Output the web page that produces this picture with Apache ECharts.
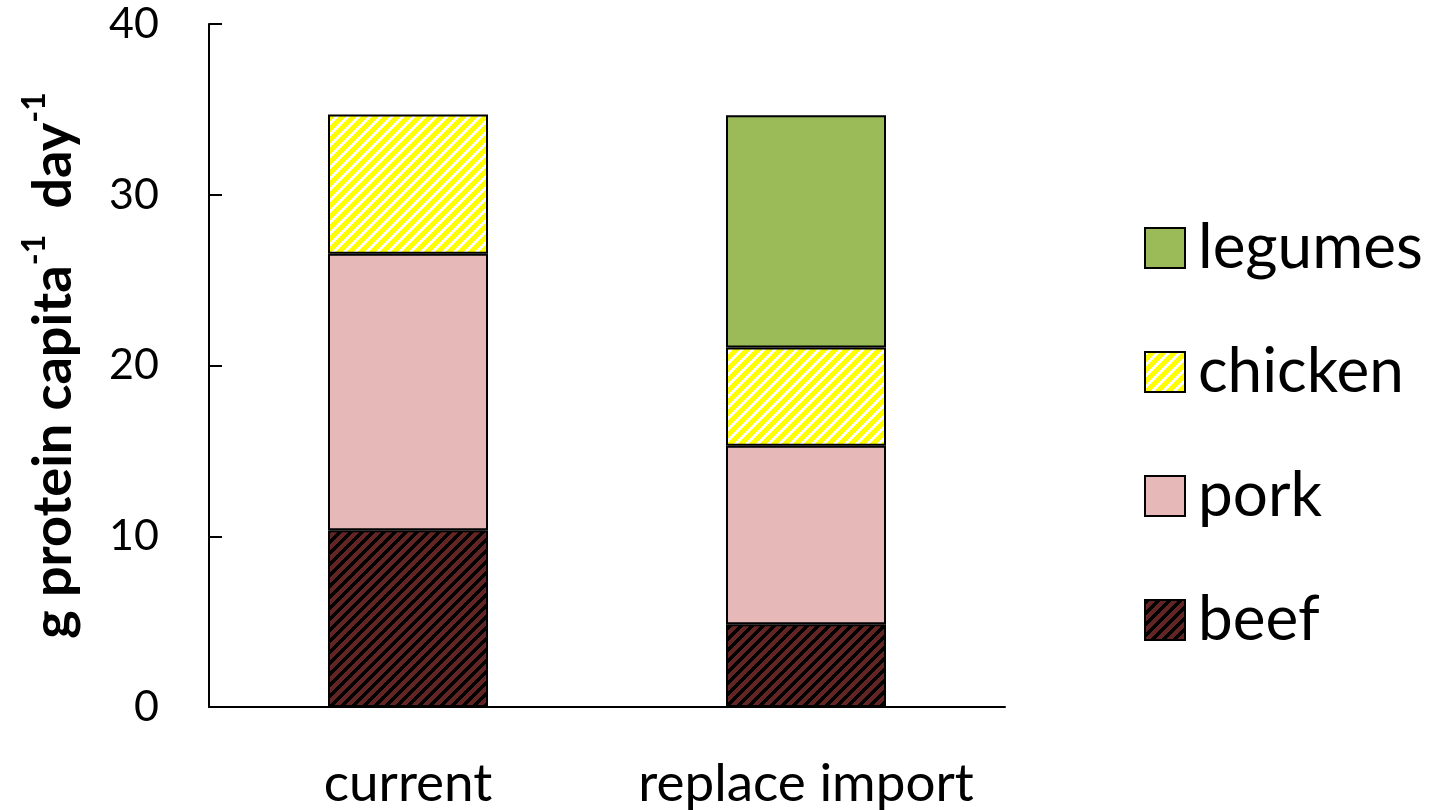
<!DOCTYPE html>
<html>
<head>
<meta charset="utf-8">
<script src="https://cdn.jsdelivr.net/npm/echarts@6/dist/echarts.min.js"></script>
<style>
  html, body { margin: 0; padding: 0; background: #fff; }
  #chart { width: 1439px; height: 810px; }
</style>
</head>
<body>
<div id="chart"></div>
<script>
// Protein supply per person per day, by source
const categories = ['current', 'replace import'];
const beef    = [10.35, 4.85];
const pork    = [16.2, 10.45];
const chicken = [8.15, 5.75];
const legumes = [null, 13.6];
const yTicks  = [0, 10, 20, 30, 40];

const FONT = 'Lato, "Open Sans", sans-serif';

// Diagonal "/" stripe tile
function stripeTile(base, stripe, n, w) {
  const c = document.createElement('canvas');
  c.width = n; c.height = n;
  const ctx = c.getContext('2d');
  ctx.fillStyle = base;
  ctx.fillRect(0, 0, n, n);
  ctx.fillStyle = stripe;
  for (let y = 0; y < n; y++) {
    for (let x = 0; x < n; x++) {
      if ((x + y) % n < w) ctx.fillRect(x, y, 1, 1);
    }
  }
  return { image: c, repeat: 'repeat' };
}

const beefFill    = stripeTile('#632523', '#000000', 11, 5);
const chickenFill = stripeTile('#FFFF00', '#FFFFFF', 11, 4);

function bar(name, data, color) {
  return {
    name: name,
    type: 'bar',
    stack: 'total',
    data: data,
    barWidth: 160,
    itemStyle: { color: color, borderColor: '#000', borderWidth: 2 },
    emphasis: { disabled: true }
  };
}

const chart = echarts.init(document.getElementById('chart'));
chart.setOption({
  animation: false,
  backgroundColor: '#fff',
  grid: { left: 209, right: 434, top: 24, bottom: 101, containLabel: false },
  legend: {
    orient: 'vertical',
    left: 1139,
    top: 212,
    icon: 'rect',
    itemWidth: 40,
    itemHeight: 40,
    itemGap: 62,
    data: ['legumes', 'chicken', 'pork', 'beef'],
    textStyle: { fontFamily: FONT, fontSize: 62, color: '#000', padding: [0, 0, 0, 8] },
    itemStyle: { borderColor: '#000', borderWidth: 2 }
  },
  xAxis: {
    type: 'category',
    data: categories,
    axisLine: { lineStyle: { color: '#000', width: 2 } },
    axisTick: { show: false },
    axisLabel: { interval: 0, hideOverlap: false, fontFamily: FONT, fontSize: 53, color: '#000', margin: 50 }
  },
  yAxis: {
    type: 'value',
    min: yTicks[0],
    max: yTicks[yTicks.length - 1],
    interval: 10,
    splitLine: { show: false },
    axisLine: { show: true, lineStyle: { color: '#000', width: 2 } },
    axisTick: { show: true, inside: true, length: 13, lineStyle: { color: '#000', width: 2 } },
    axisLabel: { fontFamily: FONT, fontSize: 43, color: '#000', margin: 50 },
    name: '{a|g protein capita}{s|-1}{a|  day}{s|-1}',
    nameLocation: 'middle',
    nameGap: 128,
    nameRotate: 90,
    nameTextStyle: {
      rich: {
        a: { fontFamily: FONT, fontSize: 54, fontWeight: 'bold', color: '#000', verticalAlign: 'bottom', lineHeight: 62 },
        s: { fontFamily: FONT, fontSize: 32, fontWeight: 'bold', color: '#000', verticalAlign: 'top', lineHeight: 62 }
      }
    }
  },
  series: [
    bar('beef', beef, beefFill),
    bar('pork', pork, '#E6B9B8'),
    bar('chicken', chicken, chickenFill),
    bar('legumes', legumes, '#9BBB59')
  ]
});
</script>
</body>
</html>
